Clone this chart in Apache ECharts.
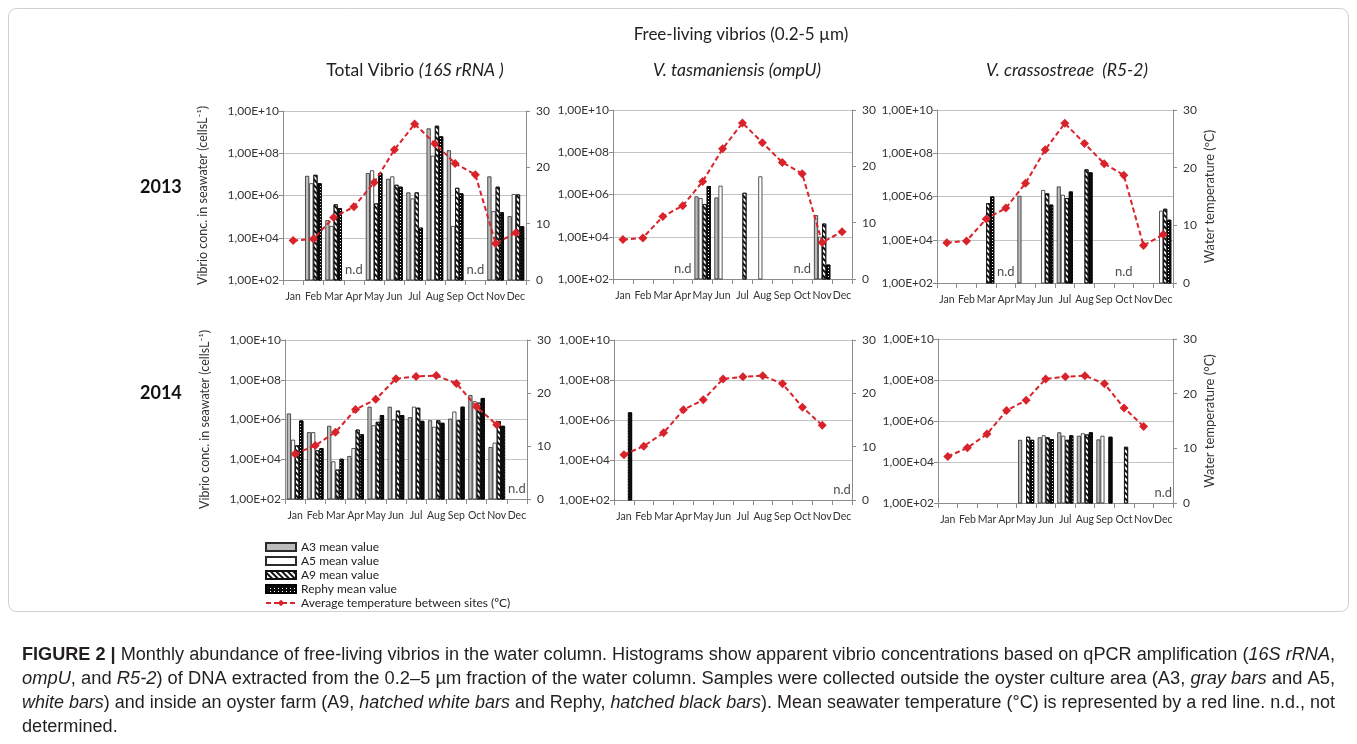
<!DOCTYPE html>
<html><head><meta charset="utf-8">
<script src="https://cdn.jsdelivr.net/npm/echarts@6/dist/echarts.min.js"></script>
<style>html,body{margin:0;padding:0;background:#fff}#c{width:1357px;height:744px}</style>
</head><body><div id="c"></div>
<script>
// ---------------- DATA ----------------
const months = ['Jan','Feb','Mar','Apr','May','Jun','Jul','Aug','Sep','Oct','Nov','Dec'];
const tempTicks = [0, 10, 20, 30];

// 2013 – Total Vibrio (16S rRNA), cells/L
const total2013_A3    = [null, 8.5e6, 6.8e4, null, 1.15e7, 6.2e6, 1.4e6, 1.5e9, 1.38e8, null, 8e6, 1.05e5];
const total2013_A5    = [null, 3.8e6, 3.6e4, null, 1.55e7, 8e6, 7.2e5, 7.6e7, 3.6e4, null, 1.8e5, 1.17e6];
const total2013_A9    = [null, 9.5e6, 3.8e5, null, 4.2e5, 3.2e6, 1.4e6, 2e9, 2.3e6, null, 2.6e6, 1.12e6];
const total2013_Rephy = [null, 3.8e6, 2.5e5, null, 1.15e7, 2.6e6, 3e4, 6.3e8, 1.26e6, null, 1.6e5, 3.5e4];
// 2013 – V. tasmaniensis (ompU)
const tas2013_A3    = [null, null, null, null, 8.1e5, 7.2e5, null, null, null, null, 1.05e5, null];
const tas2013_A5    = [null, null, null, null, 6.7e5, 2.6e6, null, 7.2e6, null, null, 1e4, null];
const tas2013_A9    = [null, null, null, null, 3.5e5, null, 1.2e6, null, null, null, 4.2e4, null];
const tas2013_Rephy = [null, null, null, null, 2.5e6, null, null, null, null, null, 480, null];
// 2013 – V. crassostreae (R5-2)
const cra2013_A3    = [null, null, null, null, 1.07e6, null, 2.9e6, null, null, null, null, null];
const cra2013_A5    = [null, null, null, null, null, 2e6, 1.2e6, null, null, null, null, 2.2e5];
const cra2013_A9    = [null, null, 4.9e5, null, null, 1.4e6, 8.4e5, 1.8e7, null, null, null, 2.7e5];
const cra2013_Rephy = [null, null, 1e6, null, null, 4.2e5, 1.7e6, 1.3e7, null, null, null, 8.4e4];
// 2014 – Total Vibrio
const total2014_A3    = [2e6, 2.3e5, 4.8e5, 1.45e4, 4.4e6, 4.4e6, 1.3e6, 9.1e5, 1.1e6, 1.7e7, 4.1e4, null];
const total2014_A5    = [9.6e4, 2.3e5, 7.8e3, 3.6e4, 5.1e5, 1e6, 4.4e6, 4.3e5, 2.5e6, 8.3e6, 6.8e4, null];
const total2014_A9    = [5e4, 2.8e4, 3e3, 3.1e5, 7.6e5, 2.8e6, 3.9e6, 9.1e5, 9.1e5, 7e6, 8.1e5, null];
const total2014_Rephy = [8.9e5, 3.6e4, 1.05e4, 1.8e5, 1.66e6, 1.66e6, 8.5e5, 6.8e5, 4.4e6, 1.2e7, 4.8e5, null];
// 2014 – V. tasmaniensis
const tas2014_A3    = [null, null, null, null, null, null, null, null, null, null, null, null];
const tas2014_A5    = [null, null, null, null, null, null, null, null, null, null, null, null];
const tas2014_A9    = [null, null, null, null, null, null, null, null, null, null, null, null];
const tas2014_Rephy = [2.4e6, null, null, null, null, null, null, null, null, null, null, null];
// 2014 – V. crassostreae
const cra2014_A3    = [null, null, null, null, 1.2e5, 1.6e5, 2.8e5, 1.9e5, 1.26e5, null, null, null];
const cra2014_A5    = [null, null, null, null, null, 2e5, 1.9e5, 2.5e5, 1.9e5, null, null, null];
const cra2014_A9    = [null, null, null, null, 1.7e5, 1.6e5, 1.2e5, 2.2e5, null, 5.5e4, null, null];
const cra2014_Rephy = [null, null, null, null, 1.2e5, 1.3e5, 2e5, 2.8e5, 1.7e5, null, null, null];

// Average water temperature (°C)
const temp2013 = [7.0, 7.3, 11.1, 13.0, 17.3, 23.1, 27.7, 24.2, 20.7, 18.7, 6.5, 8.4];
const temp2014 = [8.5, 10.1, 12.6, 16.9, 18.8, 22.7, 23.1, 23.3, 21.8, 17.4, 14.0, null];

// months not determined
const nd2013 = ['Apr', 'Oct'];
const nd2014 = ['Dec'];

// ---------------- LAYOUT / STYLE ----------------
const panels = [
  {bars: [total2013_A3, total2013_A5, total2013_A9, total2013_Rephy], temp: temp2013, nd: nd2013},
  {bars: [tas2013_A3, tas2013_A5, tas2013_A9, tas2013_Rephy], temp: temp2013, nd: nd2013},
  {bars: [cra2013_A3, cra2013_A5, cra2013_A9, cra2013_Rephy], temp: temp2013, nd: nd2013},
  {bars: [total2014_A3, total2014_A5, total2014_A9, total2014_Rephy], temp: temp2014, nd: nd2014},
  {bars: [tas2014_A3, tas2014_A5, tas2014_A9, tas2014_Rephy], temp: temp2014, nd: nd2014},
  {bars: [cra2014_A3, cra2014_A5, cra2014_A9, cra2014_Rephy], temp: temp2014, nd: nd2014}
];
const grids = [
  {left: 283, top: 111, width: 243, height: 169},
  {left: 613, top: 110, width: 239, height: 169},
  {left: 937, top: 110, width: 236, height: 173},
  {left: 285, top: 340, width: 242, height: 159},
  {left: 614, top: 340, width: 238, height: 160},
  {left: 938, top: 339, width: 235, height: 164}
];
const leftNames = ['Vibrio conc. in seawater (cellsL\u207B\u00B9)', '', '', 'Vibrio conc. in seawater (cellsL\u207B\u00B9)', '', ''];
const rightNames = ['', '', 'Water temperature (\u00BAC)', '', '', 'Water temperature (\u00B0C)'];

const barNames = ['A3 mean value', 'A5 mean value', 'A9 mean value', 'Rephy mean value'];
const lineName = 'Average temperature between sites (\u00BAC)';
const RED = '#d9232b';
const FONT = 'Lato';
const barStyles = [
  {color: '#bcbcbc', borderColor: '#2a2a2a', borderWidth: 0.8},
  {color: '#ffffff', borderColor: '#2a2a2a', borderWidth: 0.8},
  {color: '#ffffff', borderColor: '#111', borderWidth: 0.8,
   decal: {symbol: 'rect', color: '#111', dashArrayX: [1, 0], dashArrayY: [2, 2], rotation: Math.PI / 4}},
  {color: '#0d0d0d', borderColor: '#000', borderWidth: 0.8,
   decal: {symbol: 'rect', color: '#ffffff', symbolSize: 1, dashArrayX: [1, 3], dashArrayY: [1, 2]}}
];

function sci(v) {
  const e = Math.round(Math.log10(v));
  return '1,00E+' + (e < 10 ? '0' : '') + e;
}

const xAxis = [], yAxis = [], series = [];
grids.forEach((g, i) => {
  xAxis.push({
    gridIndex: i, type: 'category', data: months, boundaryGap: true,
    axisLine: {lineStyle: {color: '#8c8c8c', width: 1}},
    axisTick: {show: true, length: 5, lineStyle: {color: '#8c8c8c'}},
    axisLabel: {interval: 0, fontSize: 10.5, color: '#333', margin: 11, fontFamily: FONT, hideOverlap: false},
    splitLine: {show: false}
  });
  yAxis.push({
    gridIndex: i, type: 'log', logBase: 100, min: 100, max: 1e10, position: 'left',
    axisLine: {show: true, lineStyle: {color: '#8c8c8c'}},
    axisTick: {show: true, length: 4, lineStyle: {color: '#8c8c8c'}},
    splitLine: {show: true, lineStyle: {color: '#c4c4c4', width: 1}},
    axisLabel: {formatter: sci, fontSize: 12, color: '#333', margin: 4, fontFamily: FONT},
    name: leftNames[i], nameLocation: 'middle', nameGap: 74, nameRotate: 90,
    nameTextStyle: {fontSize: 12.5, color: '#333', fontFamily: FONT}
  });
  yAxis.push({
    gridIndex: i, type: 'value', min: 0, max: 30, interval: 10, position: 'right',
    axisLine: {show: true, lineStyle: {color: '#8c8c8c'}},
    axisTick: {show: true, length: 4, lineStyle: {color: '#8c8c8c'}},
    splitLine: {show: false},
    axisLabel: {fontSize: 12, color: '#333', margin: 10, fontFamily: FONT},
    name: rightNames[i], nameLocation: 'middle', nameGap: 30, nameRotate: 90,
    nameTextStyle: {fontSize: 13, color: '#333', fontFamily: FONT}
  });
  const p = panels[i];
  p.bars.forEach((arr, k) => {
    series.push({
      type: 'bar', name: barNames[k], xAxisIndex: i, yAxisIndex: 2 * i,
      data: arr, barGap: '0%', barCategoryGap: '18%', clip: true, z: 2,
      itemStyle: barStyles[k], emphasis: {disabled: true}
    });
  });
  series.push({
    type: 'line', name: lineName, xAxisIndex: i, yAxisIndex: 2 * i + 1,
    data: p.temp, symbol: 'diamond', symbolSize: 9, z: 5,
    lineStyle: {color: RED, width: 2, type: [5, 3]},
    itemStyle: {color: RED}, emphasis: {disabled: true}
  });
  series.push({
    type: 'scatter', name: 'n.d', xAxisIndex: i, yAxisIndex: 2 * i,
    data: p.nd.map(m => [m, 320]), symbolSize: 2, itemStyle: {color: 'rgba(0,0,0,0)'}, z: 3,
    label: {show: true, formatter: 'n.d', position: 'inside', fontSize: 13, color: '#222', fontFamily: FONT},
    emphasis: {disabled: true}
  });
});

// caption (justified lines, condensed by horizontal scaling)
const CAP_FONT = 'Liberation Sans';
const CAP_SIZE = 18;
const capStyles = {
  n: {fontSize: CAP_SIZE, fontFamily: CAP_FONT, fontWeight: 'normal', fontStyle: 'normal', fill: '#231f20'},
  b: {fontSize: CAP_SIZE, fontFamily: CAP_FONT, fontWeight: 'bold', fontStyle: 'normal', fill: '#231f20'},
  i: {fontSize: CAP_SIZE, fontFamily: CAP_FONT, fontWeight: 'normal', fontStyle: 'italic', fill: '#231f20'}
};
const captionLines = [
  [['b', 'FIGURE 2 |'], ['n', ' Monthly abundance of free-living vibrios in the water column. Histograms show apparent vibrio concentrations based on qPCR amplification ('], ['i', '16S rRNA'], ['n', ',']],
  [['i', 'ompU'], ['n', ', and '], ['i', 'R5-2'], ['n', ') of DNA extracted from the 0.2\u20135 \u00B5m fraction of the water column. Samples were collected outside the oyster culture area (A3, '], ['i', 'gray bars'], ['n', ' and A5,']],
  [['i', 'white bars'], ['n', ') and inside an oyster farm (A9, '], ['i', 'hatched white bars'], ['n', ' and Rephy, '], ['i', 'hatched black bars'], ['n', '). Mean seawater temperature (\u00B0C) is represented by a red line. n.d., not']],
  [['n', 'determined.']]
];
const capY = [655, 679, 703, 727];
const ctx = document.createElement('canvas').getContext('2d');
function measure(segs) {
  let w = 0;
  segs.forEach(([k, t]) => {
    const s = capStyles[k];
    ctx.font = s.fontStyle + ' ' + s.fontWeight + ' ' + s.fontSize + 'px "' + s.fontFamily + '"';
    w += ctx.measureText(t).width;
  });
  return w;
}
const capTarget = 1313;
const scales = captionLines.map(l => capTarget / measure(l));
const avgScale = (scales[0] + scales[1] + scales[2]) / 3;
const graphic = [
  {type: 'rect', shape: {x: 8.5, y: 8.5, width: 1340, height: 603, r: 8}, style: {fill: 'none', stroke: '#d0d0d0', lineWidth: 1}, silent: true},
  {type: 'text', x: 741, y: 35, style: {text: 'Free-living vibrios (0.2-5 \u00B5m)', font: '17px Lato', fill: '#222', align: 'center', verticalAlign: 'middle', textAlign: 'center', textVerticalAlign: 'middle'}},
  {type: 'text', x: 415, y: 70, style: {text: '{n|Total Vibrio }{i|(16S rRNA )}', align: 'center', verticalAlign: 'middle', textAlign: 'center', textVerticalAlign: 'middle',
    rich: {n: {fontSize: 17.5, fontFamily: FONT, fill: '#222'}, i: {fontSize: 17.5, fontFamily: FONT, fontStyle: 'italic', fill: '#222'}}}},
  {type: 'text', x: 737, y: 70, style: {text: 'V. tasmaniensis (ompU)', font: 'italic 17.5px Lato', fill: '#222', align: 'center', verticalAlign: 'middle', textAlign: 'center', textVerticalAlign: 'middle'}},
  {type: 'text', x: 1067, y: 70, style: {text: 'V. crassostreae  (R5-2)', font: 'italic 17.5px Lato', fill: '#222', align: 'center', verticalAlign: 'middle', textAlign: 'center', textVerticalAlign: 'middle'}},
  {type: 'text', x: 140, y: 187, style: {text: '2013', font: 'bold 18px Lato', fill: '#111', align: 'left', verticalAlign: 'middle', textAlign: 'left', textVerticalAlign: 'middle'}},
  {type: 'text', x: 140, y: 393, style: {text: '2014', font: 'bold 18px Lato', fill: '#111', align: 'left', verticalAlign: 'middle', textAlign: 'left', textVerticalAlign: 'middle'}}
];
captionLines.forEach((segs, li) => {
  graphic.push({
    type: 'text', x: 22, y: capY[li], scaleX: li < 3 ? scales[li] : avgScale, scaleY: 1,
    style: {
      text: segs.map(([k, t]) => '{' + k + '|' + t + '}').join(''),
      rich: capStyles, align: 'left', verticalAlign: 'middle', textAlign: 'left', textVerticalAlign: 'middle'
    }
  });
});

const chart = echarts.init(document.getElementById('c'), null, {renderer: 'canvas'});
chart.setOption({
  animation: false,
  backgroundColor: '#ffffff',
  textStyle: {fontFamily: FONT},
  grid: grids,
  xAxis: xAxis,
  yAxis: yAxis,
  legend: {
    orient: 'vertical', left: 265, top: 540, padding: 0, itemGap: 0,
    itemWidth: 30, itemHeight: 8, selectedMode: false,
    textStyle: {fontSize: 12, color: '#222', fontFamily: FONT, lineHeight: 14},
    data: [
      {name: barNames[0], icon: 'rect'}, {name: barNames[1], icon: 'rect'},
      {name: barNames[2], icon: 'rect'}, {name: barNames[3], icon: 'rect'},
      {name: lineName}
    ]
  },
  series: series,
  graphic: graphic
});
</script>
</body></html>
